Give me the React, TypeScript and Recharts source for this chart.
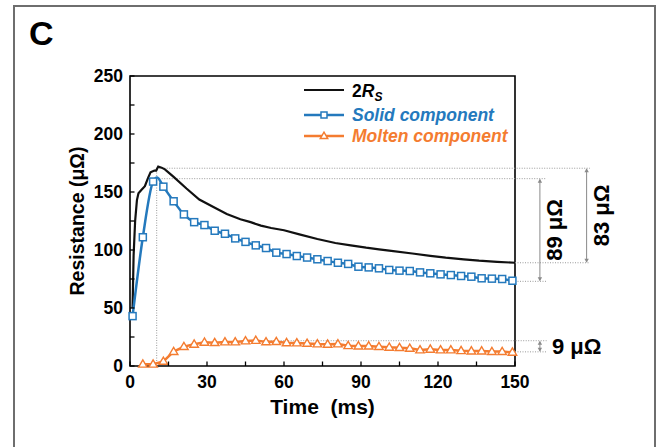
import React from 'react'
import { LineChart, Line, XAxis, YAxis, ReferenceLine, ReferenceArea, Legend, Label } from 'recharts'

const FONT = '"Liberation Sans", Arial, sans-serif'
const BLACK = '#111111'
const BLUE = '#2479bd'
const ORANGE = '#f47c30'
const GUIDE = '#9a9a9a'

const xTicks = [0, 15, 30, 45, 60, 75, 90, 105, 120, 135, 150]
const yTicks = [0, 25, 50, 75, 100, 125, 150, 175, 200, 225, 250]

// 2Rs trace (dense, no markers)
const rsTimes = [1, 1.4, 2, 2.7, 3.3, 4.5, 5.8, 7, 8, 9.5, 10.2, 11, 12.3, 13.6, 17, 22, 27, 32.5, 37.7, 43, 47, 51, 55, 60, 66, 73, 80, 86, 92, 97, 101, 110, 117, 123, 130, 136, 143, 150]
const rsValues = [50, 95, 125, 143, 149, 152, 155, 162, 167, 168.5, 168.5, 172, 171, 169.5, 163, 153, 143.5, 137, 131, 126.5, 124, 121, 119, 117, 113.5, 109.5, 106, 104, 102, 100.6, 99.4, 97, 95, 93.4, 92, 90.8, 89.8, 89]

// solid component (square markers)
const solidTimes = [1, 5, 9, 13, 17, 21, 25, 29, 33, 37, 41, 45, 49, 53, 57, 61, 65, 69, 73, 77, 81, 85, 89, 93, 97, 101, 105, 109, 113, 117, 121, 125, 129, 133, 137, 141, 145, 149]
const solidValues = [43, 111, 159, 154.6, 142, 130.7, 124, 121.5, 116.6, 114, 110, 107, 104, 101.7, 97.7, 96.5, 94.8, 93.5, 92, 90.5, 89, 88, 85.6, 85, 84.2, 82.8, 82.2, 81.9, 80.7, 79.9, 79, 78.4, 77.6, 77, 75.6, 75.3, 75, 73.5]
const solidPeakTime = 10.6
const solidPeakValue = 162.5

// molten component (triangle markers)
const moltenTimes = [5, 9, 13, 17, 21, 25, 29, 33, 37, 41, 45, 49, 53, 57, 61, 65, 69, 73, 77, 81, 85, 89, 93, 97, 101, 105, 109, 113, 117, 121, 125, 129, 133, 137, 141, 145, 149]
const moltenValues = [1.5, 1.5, 4, 12.4, 16.7, 18.7, 20.4, 20.1, 20.7, 20.7, 21.6, 22, 20.8, 21, 20, 19.8, 19.5, 19, 18.7, 19, 17.5, 17.2, 17.2, 16.7, 16.1, 15.8, 15.2, 13.8, 14.4, 13.8, 13.8, 13.2, 12.9, 12.9, 12.4, 12.4, 11.8]

// annotation levels
const peakTime = 10.4
const rsTop = 170.5
const rsBottom = 89
const solidTop = 161.5
const solidBottom = 73
const moltenTop = 21.8
const moltenBottom = 12.2
const moltenTopTime = 48
const guideNear = 162.3
const guideFar = 179.2
const arrowNear = 159.7
const arrowFar = 177.9

const rsData = rsTimes.map((t, i) => ({ t, v: rsValues[i] }))
const solidData = [
  ...solidTimes.map((t, i) => ({ t, v: solidValues[i], mark: true })),
  { t: solidPeakTime, v: solidPeakValue, mark: false },
].sort((a, b) => a.t - b.t)
const moltenData = moltenTimes.map((t, i) => ({ t, v: moltenValues[i] }))

const Square = ({ cx, cy, size = 7 }: any) => (
  <rect x={cx - size / 2} y={cy - size / 2} width={size} height={size} fill="#fff" stroke={BLUE} strokeWidth={1.5} />
)

const Triangle = ({ cx, cy, size = 8.5 }: any) => {
  const h = size * 0.85
  return (
    <polygon
      points={`${cx},${cy - h * 0.6} ${cx - size / 2},${cy + h * 0.4} ${cx + size / 2},${cy + h * 0.4}`}
      fill="#fff"
      stroke={ORANGE}
      strokeWidth={1.4}
    />
  )
}

function XTick({ x, y, payload }: any) {
  const major = payload.value % 30 === 0
  return (
    <g>
      <line x1={x} x2={x} y1={y} y2={y - 4.5} stroke="#000" strokeWidth={1.3} />
      {major && (
        <text x={x} y={y + 16} textAnchor="middle" dominantBaseline="central" fontFamily={FONT} fontWeight="bold" fontSize={17.5} fill="#000">
          {payload.value}
        </text>
      )}
    </g>
  )
}

function YTick({ x, y, payload }: any) {
  const major = payload.value % 50 === 0
  return (
    <g>
      <line x1={x} x2={x + 4.5} y1={y} y2={y} stroke="#000" strokeWidth={1.3} />
      {major && (
        <text x={x - 7} y={y} textAnchor="end" dominantBaseline="central" fontFamily={FONT} fontWeight="bold" fontSize={17.5} fill="#000">
          {payload.value}
        </text>
      )}
    </g>
  )
}

// vertical double arrow with its label
function Span({ x1, y1, y2, text, rotated }: any) {
  const top = Math.min(y1, y2)
  const bot = Math.max(y1, y2)
  const mid = (top + bot) / 2
  const a = 2.2
  return (
    <g>
      <line x1={x1} x2={x1} y1={top + 1} y2={bot - 1} stroke="#8a8a8a" strokeWidth={1} />
      <polygon points={`${x1},${top} ${x1 - a},${top + 4} ${x1 + a},${top + 4}`} fill="#8a8a8a" />
      <polygon points={`${x1},${bot} ${x1 - a},${bot - 4} ${x1 + a},${bot - 4}`} fill="#8a8a8a" />
      {rotated ? (
        <text
          x={x1 + 15}
          y={mid}
          transform={`rotate(-90 ${x1 + 15} ${mid})`}
          textAnchor="middle"
          dominantBaseline="central"
          fontFamily={FONT}
          fontWeight="bold"
          fontSize={22}
          fill="#000"
        >
          {text}
        </text>
      ) : (
        <text x={x1 + 12} y={mid} dominantBaseline="central" fontFamily={FONT} fontWeight="bold" fontSize={22} fill="#000">
          {text}
        </text>
      )}
    </g>
  )
}

function LegendBox() {
  const textStyle = { fontFamily: FONT, fontWeight: 'bold' as const, fontStyle: 'italic' as const, fontSize: 17.5 }
  return (
    <svg width={661} height={447} style={{ display: 'block' }}>
      <line x1={304} x2={344} y1={90} y2={90} stroke={BLACK} strokeWidth={2.2} />
      <text x={352} y={96.5} style={{ ...textStyle, fontStyle: 'normal' }} fill="#000">
        2<tspan fontStyle="italic">R</tspan>
        <tspan fontStyle="italic" fontSize={12} dy={4}>S</tspan>
      </text>
      <line x1={304} x2={344} y1={115} y2={115} stroke={BLUE} strokeWidth={2.5} />
      <Square cx={324} cy={115} size={6} />
      <text x={352} y={121.3} style={textStyle} fill={BLUE}>Solid component</text>
      <line x1={304} x2={344} y1={136} y2={136} stroke={ORANGE} strokeWidth={2.5} />
      <Triangle cx={324} cy={136} size={7.5} />
      <text x={352} y={142.3} style={textStyle} fill={ORANGE}>Molten component</text>
    </svg>
  )
}

const dotted = { stroke: GUIDE, strokeWidth: 1, strokeDasharray: '1 1.5', ifOverflow: 'visible' as const }

export default function App() {
  return (
    <div style={{ position: 'absolute', left: 0, top: 0, width: 661, height: 447, overflow: 'hidden', background: '#fff' }}>
      <svg width={661} height={447} style={{ position: 'absolute', left: 0, top: 0 }}>
        <rect x={14} y={6} width={641} height={470} fill="none" stroke="#6e6e6e" strokeWidth={2} />
        <text x={29} y={44.5} fontFamily={FONT} fontWeight="bold" fontSize={34} fill="#000">C</text>
      </svg>
      <div style={{ position: 'absolute', left: 0, top: 0 }}>
        <LineChart width={661} height={447} margin={{ top: 76, right: 146, bottom: 41, left: 70 }}>
          <XAxis
            type="number"
            dataKey="t"
            domain={[0, 150]}
            ticks={xTicks}
            interval={0}
            axisLine={false}
            tickLine={false}
            tickSize={0}
            tickMargin={0}
            tick={<XTick />}
            height={40}
          >
            <Label
              content={({ viewBox }: any) => (
                <text
                  x={viewBox.x + viewBox.width / 2}
                  y={viewBox.y + 40.5}
                  textAnchor="middle"
                  dominantBaseline="central"
                  fontFamily={FONT}
                  fontWeight="bold"
                  fontSize={21}
                  fill="#000"
                  style={{ whiteSpace: 'pre' }}
                >
                  {'Time  (ms)'}
                </text>
              )}
            />
          </XAxis>
          <YAxis
            type="number"
            domain={[0, 250]}
            ticks={yTicks}
            interval={0}
            axisLine={false}
            tickLine={false}
            tickSize={0}
            tickMargin={0}
            tick={<YTick />}
            width={60}
          >
            <Label
              content={({ viewBox }: any) => {
                const cx = viewBox.x + 7
                const cy = viewBox.y + viewBox.height / 2
                return (
                  <text
                    x={cx}
                    y={cy}
                    transform={`rotate(-90 ${cx} ${cy})`}
                    textAnchor="middle"
                    dominantBaseline="central"
                    fontFamily={FONT}
                    fontWeight="bold"
                    fontSize={19.5}
                    fill="#000"
                  >
                    Resistance (μΩ)
                  </text>
                )
              }}
            />
          </YAxis>

          <ReferenceArea x1={0} x2={150} y1={0} y2={250} fill="none" stroke="#000" strokeWidth={1.6} ifOverflow="visible" />

          <ReferenceLine segment={[{ x: peakTime, y: 0 }, { x: peakTime, y: rsTop }]} {...dotted} />
          <ReferenceLine segment={[{ x: peakTime, y: rsTop }, { x: guideFar, y: rsTop }]} {...dotted} />
          <ReferenceLine segment={[{ x: peakTime, y: solidTop }, { x: guideNear, y: solidTop }]} {...dotted} />
          <ReferenceLine segment={[{ x: 150, y: rsBottom }, { x: guideFar, y: rsBottom }]} {...dotted} />
          <ReferenceLine segment={[{ x: 150, y: solidBottom }, { x: guideNear, y: solidBottom }]} {...dotted} />
          <ReferenceLine segment={[{ x: moltenTopTime, y: moltenTop }, { x: guideNear, y: moltenTop }]} {...dotted} />
          <ReferenceLine segment={[{ x: 150, y: moltenBottom }, { x: guideNear, y: moltenBottom }]} {...dotted} />

          <ReferenceLine
            segment={[{ x: arrowNear, y: solidTop }, { x: arrowNear, y: solidBottom }]}
            ifOverflow="visible"
            shape={(p: any) => <Span {...p} text="89 μΩ" rotated />}
          />
          <ReferenceLine
            segment={[{ x: arrowFar, y: rsTop }, { x: arrowFar, y: rsBottom }]}
            ifOverflow="visible"
            shape={(p: any) => <Span {...p} text="83 μΩ" rotated />}
          />
          <ReferenceLine
            segment={[{ x: arrowNear, y: moltenTop }, { x: arrowNear, y: moltenBottom }]}
            ifOverflow="visible"
            shape={(p: any) => <Span {...p} text="9 μΩ" />}
          />

          <Line
            data={rsData}
            dataKey="v"
            type="linear"
            stroke={BLACK}
            strokeWidth={2.2}
            dot={false}
            activeDot={false}
            isAnimationActive={false}
          />
          <Line
            data={solidData}
            dataKey="v"
            type="monotone"
            stroke={BLUE}
            strokeWidth={2.5}
            dot={(p: any) =>
              p.payload.mark ? <Square key={`s${p.index}`} cx={p.cx} cy={p.cy} /> : <g key={`s${p.index}`} />
            }
            activeDot={false}
            isAnimationActive={false}
          />
          <Line
            data={moltenData}
            dataKey="v"
            type="linear"
            stroke={ORANGE}
            strokeWidth={2.5}
            dot={(p: any) => <Triangle key={`m${p.index}`} cx={p.cx} cy={p.cy} />}
            activeDot={false}
            isAnimationActive={false}
          />

          <Legend
            layout="vertical"
            align="center"
            verticalAlign="middle"
            content={() => <LegendBox />}
            wrapperStyle={{ left: 0, top: 0, width: 661, height: 447, pointerEvents: 'none' }}
          />
        </LineChart>
      </div>
    </div>
  )
}
